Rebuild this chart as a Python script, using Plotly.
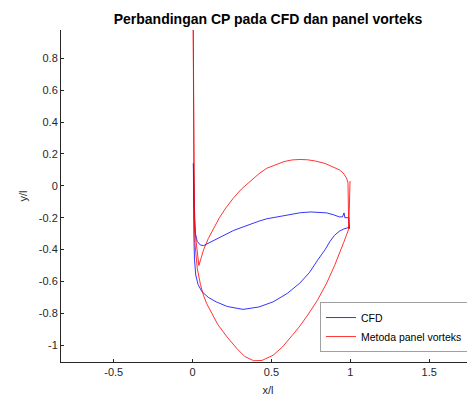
import plotly.graph_objects as go

# CFD (blue) - Cp distribution
cfd_x = [0.995, 0.96, 0.93, 0.90, 0.87, 0.84, 0.79, 0.74, 0.68, 0.60, 0.51, 0.42, 0.32, 0.22, 0.15, 0.10,
         0.06, 0.035, 0.02, 0.012,
         0.008, 0.006, 0.005, 0.010, 0.014, 0.018, 0.03, 0.05, 0.07, 0.10, 0.15, 0.20, 0.26, 0.32, 0.366,
         0.42, 0.47, 0.53, 0.58, 0.63, 0.683, 0.75, 0.81, 0.85, 0.894, 0.93, 0.95, 0.96, 0.965, 0.99, 0.995]
cfd_y = [-0.26, -0.27, -0.285, -0.31, -0.35, -0.40, -0.47, -0.545, -0.61, -0.675, -0.728, -0.76, -0.775,
         -0.757, -0.728, -0.70, -0.665, -0.62, -0.56, -0.46,
         -0.30, -0.10, 0.14, -0.05, -0.22, -0.30, -0.35, -0.372, -0.375, -0.36, -0.335, -0.31, -0.28,
         -0.258, -0.24, -0.222, -0.207, -0.195, -0.185, -0.176, -0.169, -0.164, -0.165, -0.17, -0.182,
         -0.195, -0.195, -0.17, -0.20, -0.20, -0.27]

# Metoda panel vorteks (red)
pv_x = [0.998, 0.99, 0.958, 0.93, 0.90, 0.85, 0.79, 0.73, 0.68, 0.63, 0.57, 0.51, 0.44, 0.387, 0.33,
        0.28, 0.22, 0.16, 0.12, 0.09, 0.07, 0.05, 0.03, 0.015, 0.009, 0.006, 0.004, 0.006, 0.009, 0.012,
        0.02, 0.04, 0.055, 0.07, 0.10, 0.13, 0.17, 0.21, 0.26, 0.31, 0.36, 0.42, 0.47, 0.53, 0.58, 0.63,
        0.68, 0.73, 0.78, 0.84, 0.89, 0.93, 0.955, 0.975, 0.985, 0.99]
pv_y = [0.03, -0.27, -0.355, -0.43, -0.50, -0.61, -0.72, -0.81, -0.88, -0.94, -1.01, -1.063, -1.095,
        -1.097, -1.07, -1.02, -0.95, -0.87, -0.80, -0.74, -0.69, -0.62, -0.52, -0.36, -0.15, 0.3, 1.02,
        0.5, 0.0, -0.2, -0.33, -0.50, -0.45, -0.40, -0.33, -0.27, -0.20, -0.14, -0.075, -0.02, 0.025,
        0.075, 0.11, 0.135, 0.152, 0.162, 0.165, 0.163, 0.155, 0.14, 0.12, 0.10, 0.08, 0.05, 0.02, -0.27]

x_ticks = [-0.5, 0, 0.5, 1, 1.5]
y_ticks = [-1, -0.8, -0.6, -0.4, -0.2, 0, 0.2, 0.4, 0.6, 0.8]

axis_color = "#262626"
font_family = "Liberation Sans, Arial, sans-serif"

fig = go.Figure()
fig.add_trace(go.Scatter(x=cfd_x, y=cfd_y, mode="lines", name="CFD",
                         line=dict(color="#0000ff", width=0.8)))
fig.add_trace(go.Scatter(x=pv_x, y=pv_y, mode="lines", name="Metoda panel vorteks",
                         line=dict(color="#ff0000", width=0.8)))

# page body adds an 8px offset, so the figure is sized/margined to compensate
fig.update_layout(
    width=467, height=388,
    margin=dict(l=53, r=0, t=22, b=30),
    paper_bgcolor="white", plot_bgcolor="white",
    font=dict(family=font_family, size=11, color=axis_color),
    title=dict(text="<b>Perbandingan CP pada CFD dan panel vorteks</b>",
               x=0.5, xref="paper", xanchor="center",
               y=1 - 11 / 388, yref="container", yanchor="middle",
               font=dict(size=14, color="#000000")),
    xaxis=dict(range=[-0.834, 1.79], tickvals=x_ticks, ticktext=[str(v) for v in x_ticks],
               showgrid=False, zeroline=False, showline=True, linecolor=axis_color, linewidth=1,
               ticks="inside", ticklen=3, tickcolor=axis_color,
               title=dict(text="x/l", standoff=10, font=dict(size=11))),
    yaxis=dict(range=[-1.105, 0.977], tickvals=y_ticks, ticktext=[str(v) for v in y_ticks],
               showgrid=False, zeroline=False, showline=True, linecolor=axis_color, linewidth=1,
               ticks="inside", ticklen=3, tickcolor=axis_color,
               title=dict(text="y/l", standoff=8, font=dict(size=11))),
    legend=dict(x=0.983, y=0.03, xanchor="right", yanchor="bottom",
                bgcolor="white", bordercolor="#a0a0a0", borderwidth=1,
                font=dict(size=10.5, color="#000000"), tracegroupgap=0),
    showlegend=True,
)

fig.write_html("out.html")
